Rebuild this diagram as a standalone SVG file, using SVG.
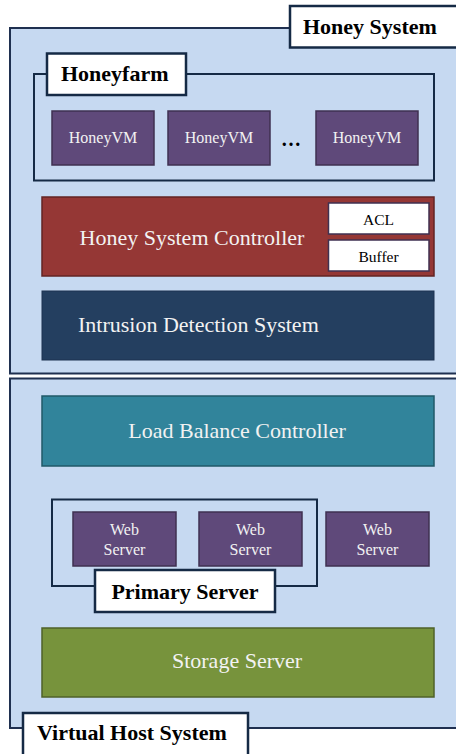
<svg xmlns="http://www.w3.org/2000/svg" width="456" height="754" viewBox="0 0 456 754">
<style>
.sys{fill:#c6d9f1;stroke:#1f3050;stroke-width:2}
.lbl{fill:#ffffff;stroke:#152a45;stroke-width:2.5}
.cont{fill:none;stroke:#152a45;stroke-width:2}
.vm{fill:#5f497a;stroke:#3f3151;stroke-width:1.5}
.small{fill:#ffffff;stroke:#3f3151;stroke-width:1.5}
.bt{font-family:"Liberation Serif",serif;font-weight:bold;font-size:22px;fill:#000}
.wt{font-family:"Liberation Serif",serif;font-size:22px;fill:#f2f2f2}
.vt{font-family:"Liberation Serif",serif;font-size:16px;fill:#f2f2f2}
.st{font-family:"Liberation Serif",serif;font-size:15.5px;fill:#000}
</style>
<rect width="456" height="754" fill="#ffffff"/>
<g id="honey-system">
<rect class="sys" x="10" y="28" width="452" height="345.5"/>
<rect class="lbl" x="290" y="6" width="170" height="41.5"/>
<text class="bt" x="303" y="34">Honey System</text>
</g>
<g id="honeyfarm">
<rect class="cont" x="34" y="74" width="400" height="106.5"/>
<rect class="lbl" x="47" y="53.5" width="139" height="41.5"/>
<text class="bt" x="61" y="81">Honeyfarm</text>
</g>
<g id="honeyvm1"><rect class="vm" x="52" y="111" width="102" height="54"/><text class="vt" x="103" y="143" text-anchor="middle">HoneyVM</text></g>
<g id="honeyvm2"><rect class="vm" x="168" y="111" width="102" height="54"/><text class="vt" x="219" y="143" text-anchor="middle">HoneyVM</text></g>
<g id="ellipsis"><text x="291" y="146" text-anchor="middle" font-family="Liberation Serif,serif" font-weight="bold" font-size="20" fill="#000">…</text></g>
<g id="honeyvm3"><rect class="vm" x="316" y="111" width="102" height="54"/><text class="vt" x="367" y="143" text-anchor="middle">HoneyVM</text></g>
<g id="controller">
<rect x="42" y="197" width="392" height="79" fill="#953735" stroke="#632523" stroke-width="1.5"/>
<text class="wt" x="192" y="245" text-anchor="middle">Honey System Controller</text>
</g>
<g id="acl"><rect class="small" x="328.5" y="203" width="100.5" height="31"/><text class="st" x="378.5" y="225" text-anchor="middle">ACL</text></g>
<g id="buffer"><rect class="small" x="328.5" y="240" width="100.5" height="31"/><text class="st" x="378.5" y="262" text-anchor="middle">Buffer</text></g>
<g id="ids">
<rect x="42" y="291" width="392" height="69" fill="#243f60" stroke="#1d3350" stroke-width="1"/>
<text class="wt" x="78" y="332">Intrusion Detection System</text>
</g>
<g id="virtual-host-system">
<rect class="sys" x="10" y="378.5" width="452" height="349.5"/>
</g>
<g id="lbc">
<rect x="42" y="396" width="392" height="70" fill="#31849b" stroke="#215968" stroke-width="1.5"/>
<text class="wt" x="237" y="438" text-anchor="middle">Load Balance Controller</text>
</g>
<g id="primary-server">
<rect class="cont" x="52" y="499.5" width="265" height="86.5"/>
</g>
<g id="web1"><rect class="vm" x="73" y="512" width="103" height="54"/><text class="vt" x="124.5" y="535" text-anchor="middle">Web</text><text class="vt" x="124.5" y="555" text-anchor="middle">Server</text></g>
<g id="web2"><rect class="vm" x="199" y="512" width="103" height="54"/><text class="vt" x="250.5" y="535" text-anchor="middle">Web</text><text class="vt" x="250.5" y="555" text-anchor="middle">Server</text></g>
<g id="web3"><rect class="vm" x="326" y="512" width="103" height="54"/><text class="vt" x="377.5" y="535" text-anchor="middle">Web</text><text class="vt" x="377.5" y="555" text-anchor="middle">Server</text></g>
<g id="primary-label">
<rect class="lbl" x="95" y="570" width="180" height="42"/>
<text class="bt" x="185" y="599" text-anchor="middle">Primary Server</text>
</g>
<g id="storage">
<rect x="42" y="628" width="392" height="69" fill="#77933c" stroke="#4f6228" stroke-width="1.5"/>
<text class="wt" x="237" y="668" text-anchor="middle">Storage Server</text>
</g>
<g id="vhs-label">
<rect class="lbl" x="23" y="713" width="225" height="45"/>
<text class="bt" x="37" y="740">Virtual Host System</text>
</g>
<g id="connectors"></g>
</svg>
